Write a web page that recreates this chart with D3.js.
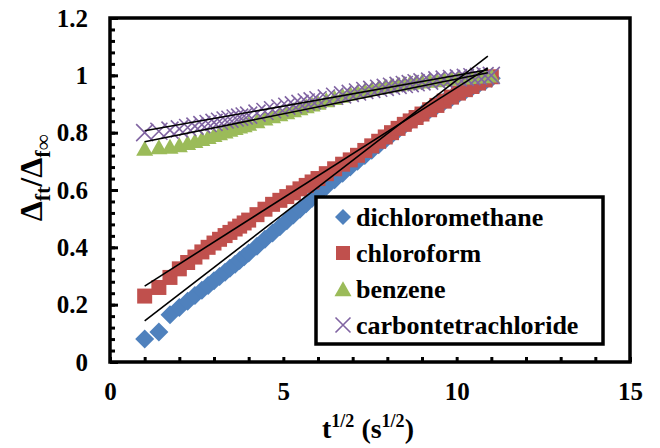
<!DOCTYPE html>
<html>
<head>
<meta charset="utf-8">
<script src="https://cdn.jsdelivr.net/npm/d3@7"></script>
</head>
<body style="margin:0">
<svg width="660" height="448"></svg>
<script>
// ---------------------------------
// data
// ---------------------------------
const xs = [1, 1.41, 1.73, 2, 2.24, 2.45, 2.65, 2.83, 3, 3.16, 3.32, 3.46, 3.61, 3.74, 3.87, 4,
  4.24, 4.47, 4.69, 4.9, 5.1, 5.29, 5.48, 5.66, 5.83, 6, 6.24, 6.48, 6.71, 6.93, 7.14, 7.35,
  7.55, 7.75, 7.94, 8.12, 8.31, 8.49, 8.66, 8.83, 9, 9.22, 9.43, 9.64, 9.85, 10.05, 10.25,
  10.44, 10.63, 10.82, 11];

const dichloromethane = [0.08, 0.105, 0.165, 0.19, 0.212, 0.232, 0.25, 0.267, 0.283, 0.298,
  0.313, 0.327, 0.341, 0.354, 0.367, 0.38, 0.404, 0.428, 0.45, 0.472, 0.493, 0.513, 0.533,
  0.552, 0.571, 0.588, 0.612, 0.636, 0.658, 0.68, 0.7, 0.72, 0.739, 0.758, 0.776, 0.793,
  0.81, 0.826, 0.84, 0.853, 0.865, 0.88, 0.895, 0.909, 0.922, 0.935, 0.947, 0.958, 0.969,
  0.979, 0.99];

const chloroform = [0.23, 0.26, 0.295, 0.325, 0.347, 0.366, 0.384, 0.4, 0.415, 0.428, 0.441,
  0.452, 0.464, 0.474, 0.485, 0.495, 0.514, 0.533, 0.55, 0.564, 0.577, 0.59, 0.604, 0.616,
  0.628, 0.64, 0.657, 0.674, 0.69, 0.705, 0.721, 0.738, 0.754, 0.77, 0.785, 0.8, 0.815,
  0.829, 0.841, 0.853, 0.865, 0.88, 0.895, 0.91, 0.924, 0.938, 0.95, 0.961, 0.973, 0.984,
  0.995];

const benzene = [0.745, 0.75, 0.752, 0.757, 0.765, 0.772, 0.779, 0.786, 0.793, 0.799, 0.805,
  0.811, 0.817, 0.822, 0.827, 0.832, 0.841, 0.85, 0.858, 0.865, 0.872, 0.879, 0.886, 0.893,
  0.899, 0.905, 0.914, 0.922, 0.93, 0.937, 0.943, 0.948, 0.953, 0.958, 0.962, 0.966, 0.969,
  0.972, 0.975, 0.977, 0.979, 0.982, 0.984, 0.987, 0.989, 0.991, 0.993, 0.995, 0.997, 0.998,
  1.0];

const carbontetrachloride = [0.8, 0.805, 0.809, 0.813, 0.818, 0.823, 0.828, 0.832, 0.836, 0.84,
  0.844, 0.847, 0.851, 0.854, 0.858, 0.861, 0.868, 0.874, 0.88, 0.886, 0.892, 0.897, 0.902,
  0.907, 0.911, 0.915, 0.921, 0.927, 0.932, 0.937, 0.942, 0.947, 0.951, 0.955, 0.958, 0.962,
  0.965, 0.968, 0.971, 0.974, 0.977, 0.98, 0.984, 0.987, 0.989, 0.991, 0.993, 0.995, 0.997,
  0.999, 1.0];

const seriesNames = ["dichloromethane", "chloroform", "benzene", "carbontetrachloride"];
const seriesColors = ["#4f81bd", "#c0504d", "#9bbb59", "#8064a2"];

// linear trend lines (slope, intercept) and their x range
const trendSlope = [0.0933, 0.0769, 0.0243, 0.0215];
const trendIntercept = [0.05, 0.188, 0.744, 0.785];
const trendRange = [1, 10.9];

const xTickLabels = [0, 5, 10, 15];
const yTickLabels = [0, 0.2, 0.4, 0.6, 0.8, 1, 1.2];

// ---------------------------------
// setup
// ---------------------------------
const FONT = "Liberation Serif";
const svg = d3.select("svg");
const plot = { left: 110, top: 18, right: 630, bottom: 362 };

const xScale = d3.scaleLinear().domain([0, 15]).range([plot.left, plot.right]);
const yScale = d3.scaleLinear().domain([0, 1.2]).range([plot.bottom, plot.top]);

// every text gets its font directly
function serifText(sel, size) {
  return sel.attr("font-family", FONT).attr("font-weight", "bold").attr("font-size", size);
}

// marker shapes
function diamond(s) {
  return `M0,${-s}L${s},0L0,${s}L${-s},0Z`;
}
function square(s) {
  return `M${-s},${-s}H${s}V${s}H${-s}Z`;
}
function triangle(s) {
  return `M0,${-s * 0.9}L${s},${s * 0.85}L${-s},${s * 0.85}Z`;
}
function cross(s) {
  return `M${-s},${-s}L${s},${s}M${s},${-s}L${-s},${s}`;
}
const markers = [
  { path: diamond(9.5), fill: true },
  { path: square(7.5), fill: true },
  { path: triangle(8.5), fill: true },
  { path: cross(8.5), fill: false },
];

const allSeries = [dichloromethane, chloroform, benzene, carbontetrachloride];

// ---------------------------------
// points
// ---------------------------------
allSeries.forEach((vals, i) => {
  svg.append("g")
    .selectAll("path")
    .data(vals.map((v, j) => [xs[j], v]))
    .enter()
    .append("path")
    .attr("transform", (d) => `translate(${xScale(d[0])},${yScale(d[1])})`)
    .attr("d", markers[i].path)
    .style("fill", markers[i].fill ? seriesColors[i] : "none")
    .style("stroke", markers[i].fill ? "none" : seriesColors[i])
    .style("stroke-width", 1.6);
});

// trend lines
svg.append("g")
  .selectAll("line")
  .data(trendSlope.map((m, i) => [m, trendIntercept[i]]))
  .enter()
  .append("line")
  .attr("x1", xScale(trendRange[0]))
  .attr("x2", xScale(trendRange[1]))
  .attr("y1", (d) => yScale(d[1] + d[0] * trendRange[0]))
  .attr("y2", (d) => yScale(d[1] + d[0] * trendRange[1]))
  .style("stroke", "#000")
  .style("stroke-width", 1.6);

// ---------------------------------
// axes (ticks inside)
// ---------------------------------
const yMinor = d3.range(0, 1.2001, 0.04);
svg.append("g")
  .attr("transform", `translate(${plot.left},0)`)
  .call(d3.axisLeft(yScale).tickValues(yMinor).tickSize(-5).tickFormat(""))
  .call((g) => g.select(".domain").remove())
  .selectAll("line").style("stroke-width", 3);

const yAxis = svg.append("g")
  .attr("transform", `translate(${plot.left},0)`)
  .call(d3.axisLeft(yScale).tickValues(yTickLabels).tickSize(-8).tickPadding(22)
    .tickFormat((d) => d));
yAxis.select(".domain").remove();
yAxis.selectAll("line").style("stroke-width", 3);
serifText(yAxis.selectAll("text"), 25);

const xAxis = svg.append("g")
  .attr("transform", `translate(0,${plot.bottom})`)
  .call(d3.axisBottom(xScale).tickValues(d3.range(0, 16, 1)).tickSize(-5).tickPadding(20)
    .tickFormat((d) => (xTickLabels.includes(d) ? d : "")));
xAxis.select(".domain").remove();
xAxis.selectAll("line").style("stroke-width", 3);
serifText(xAxis.selectAll("text"), 25);

// plot frame
svg.append("rect")
  .attr("x", plot.left)
  .attr("y", plot.top)
  .attr("width", plot.right - plot.left)
  .attr("height", plot.bottom - plot.top)
  .style("fill", "none")
  .style("stroke", "#000")
  .style("stroke-width", 3.5);

// ---------------------------------
// axis titles
// ---------------------------------
const xTitle = serifText(svg.append("text"), 28)
  .attr("x", 368)
  .attr("y", 438)
  .attr("text-anchor", "middle");
xTitle.append("tspan").text("t");
xTitle.append("tspan").attr("dy", -11).attr("font-size", 18).text("1/2");
xTitle.append("tspan").attr("dy", 11).text(" (s");
xTitle.append("tspan").attr("dy", -11).attr("font-size", 18).text("1/2");
xTitle.append("tspan").attr("dy", 11).text(")");

const yTitle = serifText(svg.append("text"), 32)
  .attr("transform", "translate(42,178)rotate(-90)")
  .attr("text-anchor", "middle");
yTitle.append("tspan").text("Δ");
yTitle.append("tspan").attr("dy", 8).attr("font-size", 22).text("ft");
yTitle.append("tspan").attr("dy", -8).text("/Δ");
yTitle.append("tspan").attr("dy", 8).attr("font-size", 22).text("f∞");

// ---------------------------------
// legend
// ---------------------------------
const legend = svg.append("g");
legend.append("rect")
  .attr("x", 316)
  .attr("y", 197)
  .attr("width", 287)
  .attr("height", 147)
  .style("fill", "#fff")
  .style("stroke", "#000")
  .style("stroke-width", 3.5);

const legendMarkers = [diamond(8), square(7), triangle(8.5), cross(7.5)];
seriesNames.forEach((name, i) => {
  const cy = 217 + i * 36;
  legend.append("path")
    .attr("transform", `translate(343,${cy})`)
    .attr("d", legendMarkers[i])
    .style("fill", markers[i].fill ? seriesColors[i] : "none")
    .style("stroke", markers[i].fill ? "none" : seriesColors[i])
    .style("stroke-width", 1.6);
  serifText(legend.append("text"), 26)
    .attr("x", 356)
    .attr("y", cy + 9)
    .text(name);
});
</script>
</body>
</html>
